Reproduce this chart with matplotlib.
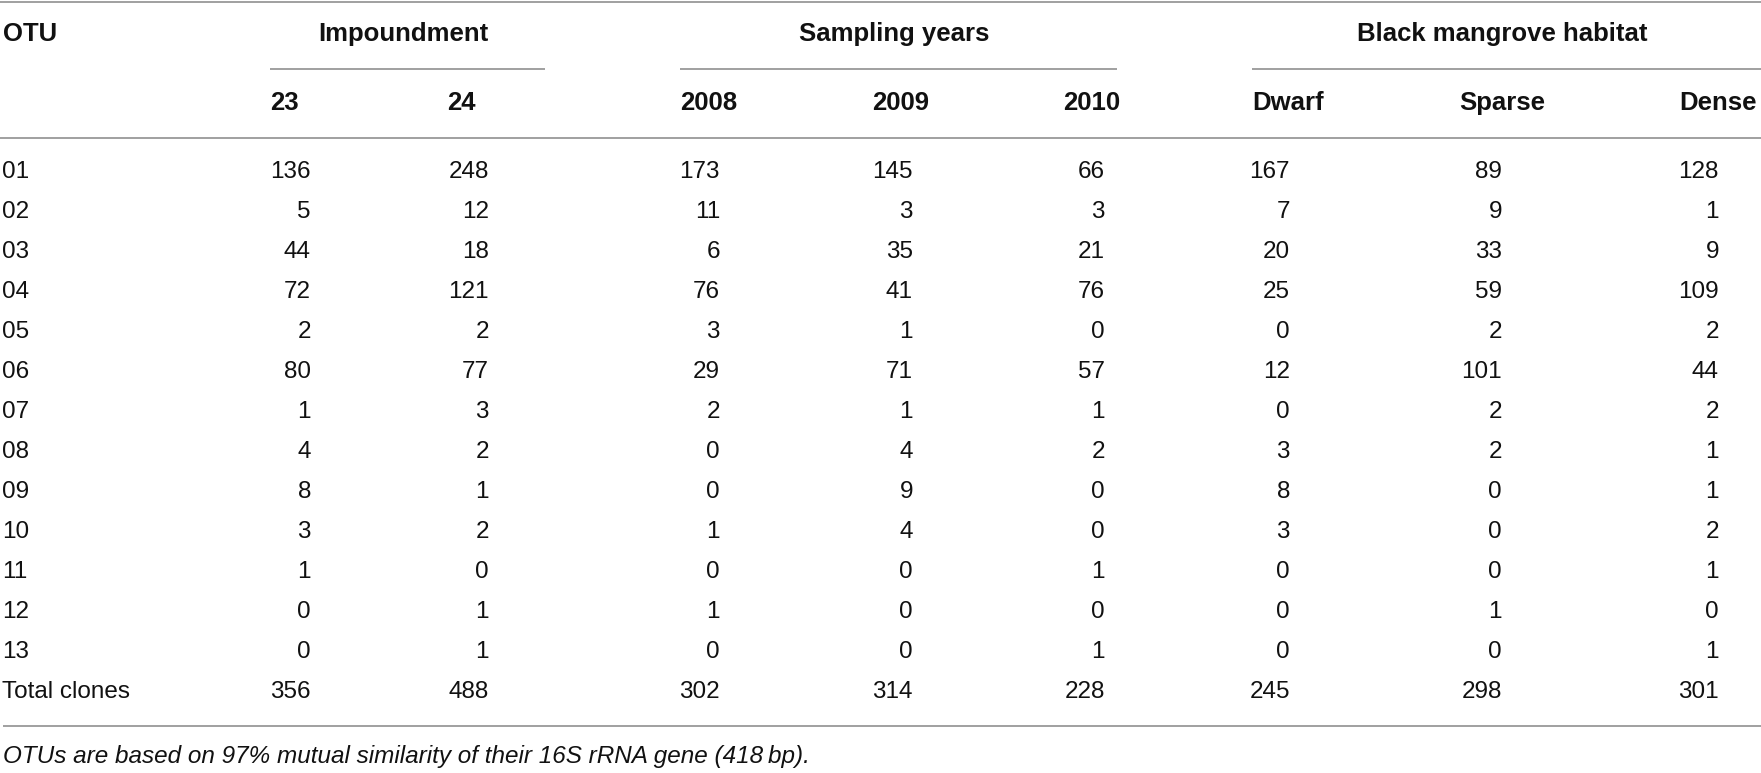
import matplotlib
matplotlib.use("Agg")
import matplotlib.pyplot as plt

# ---- table content ----
otus = ["01", "02", "03", "04", "05", "06", "07", "08", "09", "10", "11", "12", "13"]
groups = ["Impoundment", "Sampling years", "Black mangrove habitat"]
subheads = ["23", "24", "2008", "2009", "2010", "Dwarf", "Sparse", "Dense"]

imp_23 = [136, 5, 44, 72, 2, 80, 1, 4, 8, 3, 1, 0, 0]
imp_24 = [248, 12, 18, 121, 2, 77, 3, 2, 1, 2, 0, 1, 1]
yr_2008 = [173, 11, 6, 76, 3, 29, 2, 0, 0, 1, 0, 1, 0]
yr_2009 = [145, 3, 35, 41, 1, 71, 1, 4, 9, 4, 0, 0, 0]
yr_2010 = [66, 3, 21, 76, 0, 57, 1, 2, 0, 0, 1, 0, 1]
hab_dwarf = [167, 7, 20, 25, 0, 12, 0, 3, 8, 3, 0, 0, 0]
hab_sparse = [89, 9, 33, 59, 2, 101, 2, 2, 0, 0, 0, 1, 0]
hab_dense = [128, 1, 9, 109, 2, 44, 2, 1, 1, 2, 1, 0, 1]
totals = [356, 488, 302, 314, 228, 245, 298, 301]

footnote = "OTUs are based on 97% mutual similarity of their 16S rRNA gene (418\u2009bp)."

columns = [imp_23, imp_24, yr_2008, yr_2009, yr_2010, hab_dwarf, hab_sparse, hab_dense]

# ---- layout (pixels) ----
W, H = 1761, 773
head_left = [270, 447, 680, 872, 1063, 1252, 1459, 1679]
val_right = [311, 489, 720, 913, 1105, 1290, 1502, 1719]
group_span = [(270, 545), (680, 1117), (1252, 1761)]
row0, row_step = 172, 40

line_col = "#a0a0a0"
txt_col = "#111111"
fs = 17.5
fs_head = 18.5
plt.rcParams["font.family"] = ["Liberation Sans", "DejaVu Sans"]

fig = plt.figure(figsize=(W / 100, H / 100), dpi=100)
ax = fig.add_axes([0, 0, 1, 1])
ax.set_xlim(0, W)
ax.set_ylim(H, 0)
ax.axis("off")

def hline(y, x0, x1):
    ax.plot([x0, x1], [y, y], color=line_col, lw=1.4, solid_capstyle="butt")

hline(2, 0, W)
hline(138, 0, W)
hline(726, 3, W)
for x0, x1 in group_span:
    hline(69, x0, x1)

ax.text(3, 34, "OTU", fontsize=fs_head, fontweight="bold", color=txt_col, va="center", ha="left")
for g, (x0, x1) in zip(groups, group_span):
    ax.text((x0 + x1) / 2 - 4, 34, g, fontsize=fs_head, fontweight="bold", color=txt_col,
            va="center", ha="center")
for s, x in zip(subheads, head_left):
    ax.text(x, 103, s, fontsize=fs_head, fontweight="bold", color=txt_col, va="center", ha="left")

row_labels = otus + ["Total clones"]
for i, lab in enumerate(row_labels):
    y = row0 + i * row_step
    ax.text(2, y, lab, fontsize=fs, color=txt_col, va="center", ha="left")
    for c, col in enumerate(columns):
        v = totals[c] if i == len(otus) else col[i]
        ax.text(val_right[c], y, str(v), fontsize=fs, color=txt_col, va="center", ha="right")

ax.text(3, 757, footnote, fontsize=fs, style="italic", color=txt_col, va="center", ha="left",
        family=["Liberation Sans Narrow", "Liberation Sans", "DejaVu Sans"])

fig.savefig("out.png", dpi=100)
